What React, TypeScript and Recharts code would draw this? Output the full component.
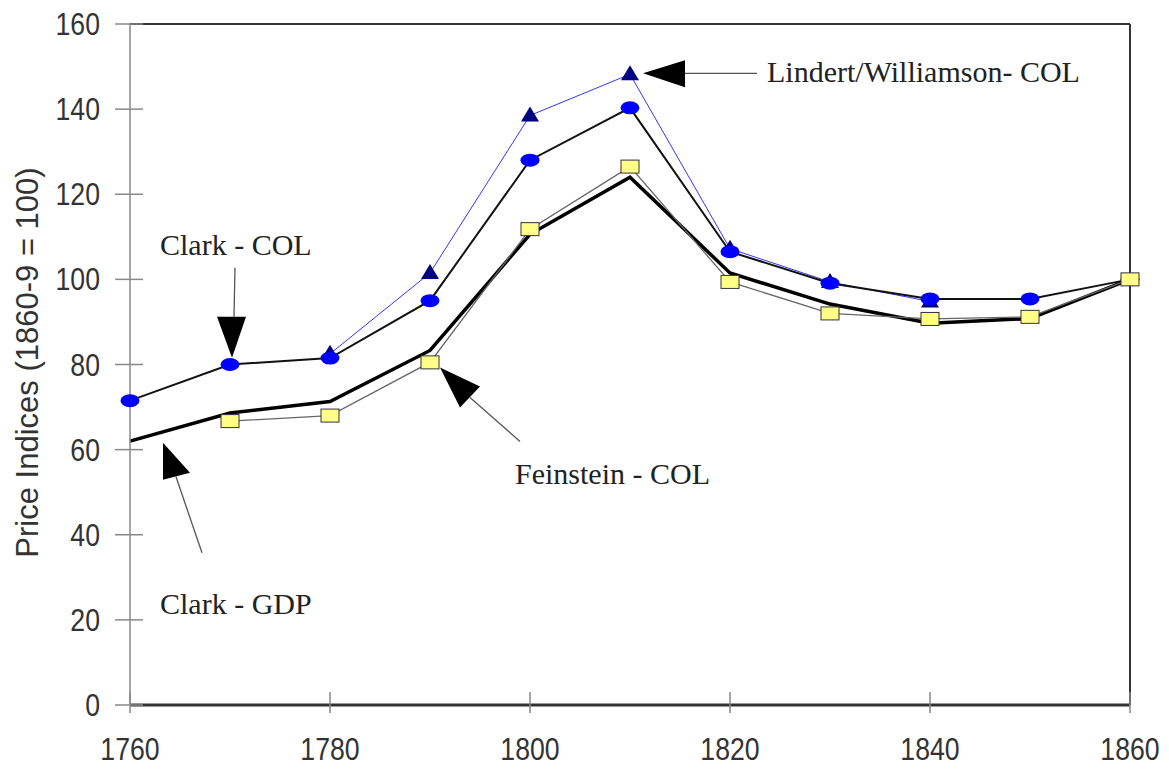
import { Line, LineChart, ReferenceDot, ReferenceLine, XAxis, YAxis } from "recharts";

const years = [1760, 1770, 1780, 1790, 1800, 1810, 1820, 1830, 1840, 1850, 1860];
const lindertCol = [null, null, 82.5, 101.5, 138.5, 148.2, 107.2, 99.4, 94.8, null, null];
const clarkCol = [71.5, 80, 81.5, 95, 128, 140.3, 106.5, 99.1, 95.4, 95.4, 100];
const feinsteinCol = [null, 66.7, 68, 80.5, 111.8, 126.5, 99.4, 92, 90.7, 91.2, 100];
const clarkGdp = [62, 68.6, 71.3, 83.3, 110.6, 124, 101.5, 94.2, 89.7, 90.8, 100];

const xTicks = [1760, 1780, 1800, 1820, 1840, 1860];
const yTicks = [0, 20, 40, 60, 80, 100, 120, 140, 160];

const rows = years.map((year, i) => ({
  year,
  lindert: lindertCol[i],
  clarkCol: clarkCol[i],
  feinstein: feinsteinCol[i],
  clarkGdp: clarkGdp[i],
}));

const SANS = "'Liberation Sans', Arial, sans-serif";
const SERIF = "'Liberation Serif', 'Times New Roman', serif";

// callouts: tip sits on a data coordinate, the rest is drawn in pixel offsets from it
const callouts = [
  {
    text: "Lindert/Williamson- COL",
    x: 1811.3,
    y: 148.4,
    head: [[0, 0], [42, -13], [42, 14]],
    stem: [42, 0, 114, 0],
    tx: 124,
    ty: 9,
  },
  {
    text: "Clark - COL",
    x: 1770.2,
    y: 81.6,
    head: [[0, 0], [-15, -41], [14, -41]],
    stem: [2, -41, 3, -90],
    tx: -72,
    ty: -103,
  },
  {
    text: "Feinstein - COL",
    x: 1791,
    y: 79.3,
    head: [[0, 0], [20, 40], [40, 19]],
    stem: [30, 30, 80, 74],
    tx: 75,
    ty: 117,
  },
  {
    text: "Clark - GDP",
    x: 1763.3,
    y: 61.6,
    head: [[0, 0], [0, 37], [27, 30]],
    stem: [13, 34, 39, 110],
    tx: -3,
    ty: 171,
  },
];

type Callout = (typeof callouts)[number];

function CalloutShape({ cx, cy, c }: { cx?: number; cy?: number; c: Callout }) {
  if (cx == null || cy == null) return <g />;
  const pts = c.head.map(([dx, dy]) => `${cx + dx},${cy + dy}`).join(" ");
  return (
    <g>
      <line
        x1={cx + c.stem[0]}
        y1={cy + c.stem[1]}
        x2={cx + c.stem[2]}
        y2={cy + c.stem[3]}
        stroke="#555"
        strokeWidth={1.3}
      />
      <polygon points={pts} fill="#000" />
      <text x={cx + c.tx} y={cy + c.ty} fontFamily={SERIF} fontSize={30} fill="#222">
        {c.text}
      </text>
    </g>
  );
}

function YTick({ x, y, payload }: any) {
  return (
    <g>
      <line x1={x - 15} x2={x + 13} y1={y} y2={y} stroke="#888" strokeWidth={1.5} />
      <text
        transform={`translate(${x - 30},${y + 11}) scale(0.86,1)`}
        textAnchor="end"
        fontFamily={SANS}
        fontSize={31}
        fill="#333"
      >
        {payload.value}
      </text>
    </g>
  );
}

function XTick({ x, y, payload }: any) {
  return (
    <g>
      <line x1={x} x2={x} y1={y - 13} y2={y + 8} stroke="#888" strokeWidth={1.5} />
      <text
        transform={`translate(${x},${y + 55}) scale(0.86,1)`}
        textAnchor="middle"
        fontFamily={SANS}
        fontSize={31}
        fill="#333"
      >
        {payload.value}
      </text>
    </g>
  );
}

function YTitle({ viewBox }: any) {
  const cx = viewBox.x + 38;
  const cy = viewBox.y + viewBox.height / 2 - 2;
  return (
    <text
      transform={`translate(${cx},${cy}) rotate(-90)`}
      textAnchor="middle"
      fontFamily={SANS}
      fontSize={31}
      fill="#333"
    >
      Price Indices (1860-9 = 100)
    </text>
  );
}

function Triangle({ cx, cy, index }: any) {
  if (cx == null || cy == null) return <g key={`t${index}`} />;
  return (
    <polygon
      key={`t${index}`}
      points={`${cx},${cy - 9} ${cx - 9},${cy + 6} ${cx + 9},${cy + 6}`}
      fill="#000080"
    />
  );
}

function Oval({ cx, cy, index }: any) {
  if (cx == null || cy == null) return <g key={`o${index}`} />;
  return <ellipse key={`o${index}`} cx={cx} cy={cy} rx={9.5} ry={6.5} fill="#0000ff" />;
}

function Square({ cx, cy, index }: any) {
  if (cx == null || cy == null) return <g key={`s${index}`} />;
  return (
    <rect
      key={`s${index}`}
      x={cx - 9}
      y={cy - 6.5}
      width={18}
      height={13}
      fill="#ffff88"
      stroke="#333"
      strokeWidth={1}
    />
  );
}

export default function App() {
  return (
    <div style={{ position: "absolute", left: 0, top: 0, background: "#fff" }}>
      <LineChart
        width={1169}
        height={770}
        data={rows}
        margin={{ top: 24, right: 39, bottom: 25, left: 0 }}
      >
        <XAxis
          dataKey="year"
          type="number"
          domain={[1760, 1860]}
          ticks={xTicks}
          height={40}
          tickSize={0}
          tickMargin={0}
          tickLine={false}
          tick={<XTick />}
          axisLine={{ stroke: "#333", strokeWidth: 3 }}
        />
        <YAxis
          domain={[0, 160]}
          ticks={yTicks}
          width={130}
          tickSize={0}
          tickMargin={0}
          tickLine={false}
          tick={<YTick />}
          axisLine={{ stroke: "#888", strokeWidth: 1.5 }}
          label={<YTitle />}
        />
        <ReferenceLine y={160} stroke="#333" strokeWidth={2} />
        <ReferenceLine x={1860} stroke="#333" strokeWidth={2} />

        <Line
          dataKey="lindert"
          stroke="#3535ff"
          strokeWidth={1}
          dot={<Triangle />}
          activeDot={false}
          isAnimationActive={false}
        />
        <Line
          dataKey="clarkCol"
          stroke="#111"
          strokeWidth={2}
          dot={<Oval />}
          activeDot={false}
          isAnimationActive={false}
        />
        <Line
          dataKey="clarkGdp"
          stroke="#000"
          strokeWidth={3.5}
          dot={false}
          activeDot={false}
          isAnimationActive={false}
        />
        <Line
          dataKey="feinstein"
          stroke="#666"
          strokeWidth={1.3}
          dot={<Square />}
          activeDot={false}
          isAnimationActive={false}
        />

        {callouts.map((c) => (
          <ReferenceDot
            key={c.text}
            x={c.x}
            y={c.y}
            r={0}
            shape={(p: any) => <CalloutShape cx={p.cx} cy={p.cy} c={c} />}
          />
        ))}
      </LineChart>
    </div>
  );
}
